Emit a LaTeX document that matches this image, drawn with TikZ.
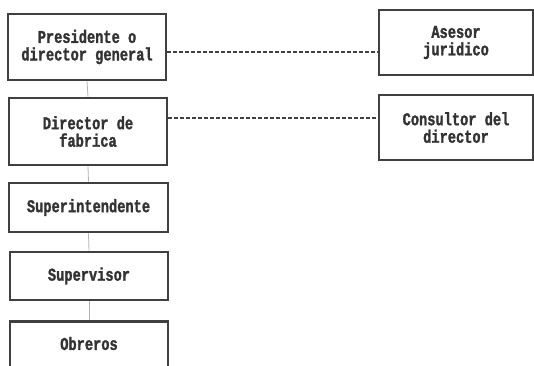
\documentclass[tikz,border=0pt]{standalone}
\usepackage{fontspec}
\setmonofont[FakeStretch=0.76,FakeBold=1.5]{Liberation Mono}
\begin{document}
\begin{tikzpicture}[x=1pt,y=-1pt,
  box/.style={draw=black!75, line width=2.8pt, fill=white, inner sep=0pt,
    font=\ttfamily\bfseries\fontsize{18}{17.5}\selectfont, text=black!80,
    align=center},
  vline/.style={draw=black!30, line width=0.8pt},
  dline/.style={draw=black!75, line width=1.2pt, dash pattern=on 3.5pt off 2.5pt}]
\useasboundingbox (0,0) rectangle (534,365);
\node[box, minimum width=158pt, minimum height=66pt] (pres) at (87,47) {Presidente o\\director general};
\node[box, minimum width=158pt, minimum height=67pt] (dir) at (88,131.5) {Director de\\fabrica};
\node[box, minimum width=159pt, minimum height=49pt] (sup) at (88.5,207.5) {Superintendente};
\node[box, minimum width=158pt, minimum height=48pt] (supv) at (89,276) {Supervisor};
\node[box, minimum width=158pt, minimum height=60pt, anchor=north] (obr) at (89,320) {\raisebox{16pt}{Obreros}};
\node[box, minimum width=154pt, minimum height=65pt] (ases) at (456,42.5) {Asesor\\juridico};
\node[box, minimum width=154pt, minimum height=65pt] (cons) at (456,127.5) {Consultor del\\director};
\draw[vline] (pres.south) -- (dir.north);
\draw[vline] (dir.south) -- (sup.north);
\draw[vline] (sup.south) -- (supv.north);
\draw[vline] (supv.south) -- (obr.north);
\coordinate (d1) at (pres.east |- 0,52);
\coordinate (d2) at (dir.east |- 0,118);
\draw[dline] (d1) -- (ases.west |- d1);
\draw[dline] (d2) -- (cons.west |- d2);
\end{tikzpicture}
\end{document}
